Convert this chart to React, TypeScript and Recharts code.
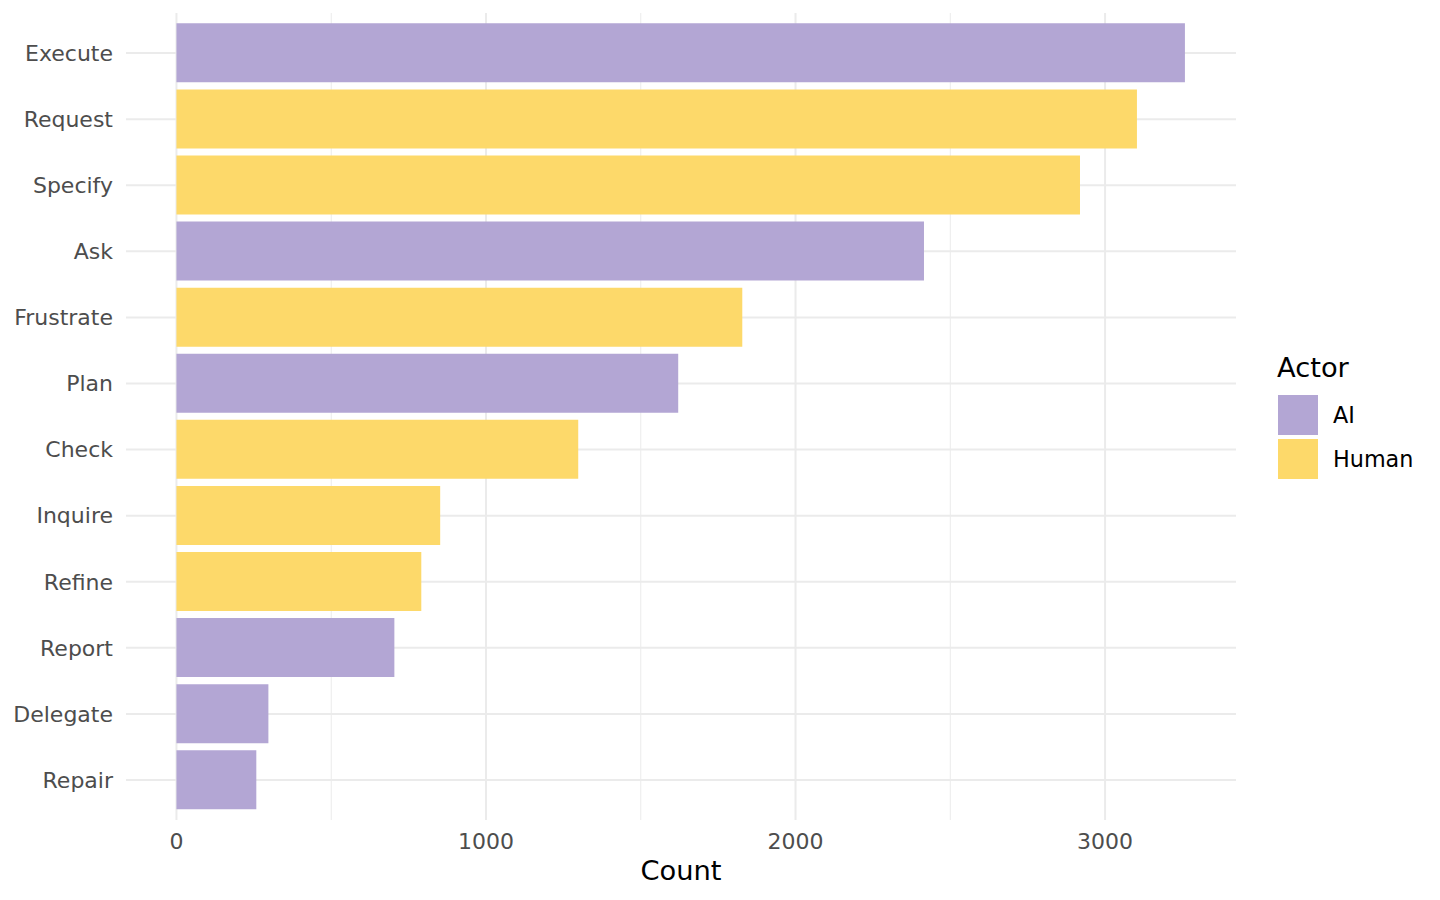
import React from 'react';
import { BarChart, Bar, XAxis, YAxis, CartesianGrid, Cell, Label } from 'recharts';

const categories = ['Execute', 'Request', 'Specify', 'Ask', 'Frustrate', 'Plan', 'Check', 'Inquire', 'Refine', 'Report', 'Delegate', 'Repair'];
const counts = [3258, 3103, 2919, 2415, 1828, 1621, 1298, 852, 791, 704, 297, 258];
const actors = ['AI', 'Human', 'Human', 'AI', 'Human', 'AI', 'Human', 'Human', 'Human', 'AI', 'AI', 'AI'];
const xTicks = [0, 1000, 2000, 3000];
const minorTicks = [500, 1500, 2500];
const legendItems = ['AI', 'Human'];
const colors: Record<string, string> = { AI: '#B3A6D4', Human: '#FDD96A' };

const data = categories.map((c, i) => ({ category: c, count: counts[i], actor: actors[i] }));

const FONT = 'DejaVu Sans, Verdana, sans-serif';

const LegendBox = () => (
  <div style={{ position: 'absolute', left: 1277, top: 352, fontFamily: FONT }}>
    <div style={{ fontSize: 27.3, color: '#000', lineHeight: '32px', marginBottom: 11 }}>Actor</div>
    {legendItems.map((a) => (
      <div key={a} style={{ display: 'flex', alignItems: 'center', height: 40, marginBottom: 4 }}>
        <div style={{ width: 40, height: 40, background: colors[a], marginLeft: 1 }} />
        <span style={{ fontSize: 22.3, color: '#000', marginLeft: 15 }}>{a}</span>
      </div>
    ))}
  </div>
);

export default function App() {
  return (
    <div style={{ position: 'fixed', left: 0, top: 0, width: 1440, height: 900, background: '#fff' }}>
      <BarChart
        width={1440}
        height={900}
        data={data}
        layout="vertical"
        margin={{ top: 13, right: 204, bottom: 0, left: 0 }}
        barCategoryGap="5%"
      >
        <CartesianGrid horizontal={false} verticalValues={minorTicks} stroke="#EBEBEB" strokeWidth={1} />
        <CartesianGrid verticalValues={xTicks} horizontalValues={categories} stroke="#EBEBEB" strokeWidth={2} />
        <XAxis
          type="number"
          domain={[-163, 3423]}
          allowDataOverflow
          ticks={xTicks}
          axisLine={false}
          tickLine={false}
          tickSize={0}
          tickMargin={13}
          height={80}
          tick={{ fill: '#4D4D4D', fontSize: 22, fontFamily: FONT }}
        >
          <Label value="Count" position="insideBottom" offset={20} style={{ fill: '#000', fontSize: 27.3, fontFamily: FONT }} />
        </XAxis>
        <YAxis
          type="category"
          dataKey="category"
          width={126}
          axisLine={false}
          tickLine={false}
          tickSize={0}
          tickMargin={13}
          padding={{ top: 7, bottom: 7 }}
          interval={0}
          tick={{ fill: '#4D4D4D', fontSize: 22, fontFamily: FONT }}
        />
        <Bar dataKey="count" isAnimationActive={false}>
          {data.map((d, i) => (
            <Cell key={i} fill={colors[d.actor]} />
          ))}
        </Bar>
      </BarChart>
      <LegendBox />
    </div>
  );
}
